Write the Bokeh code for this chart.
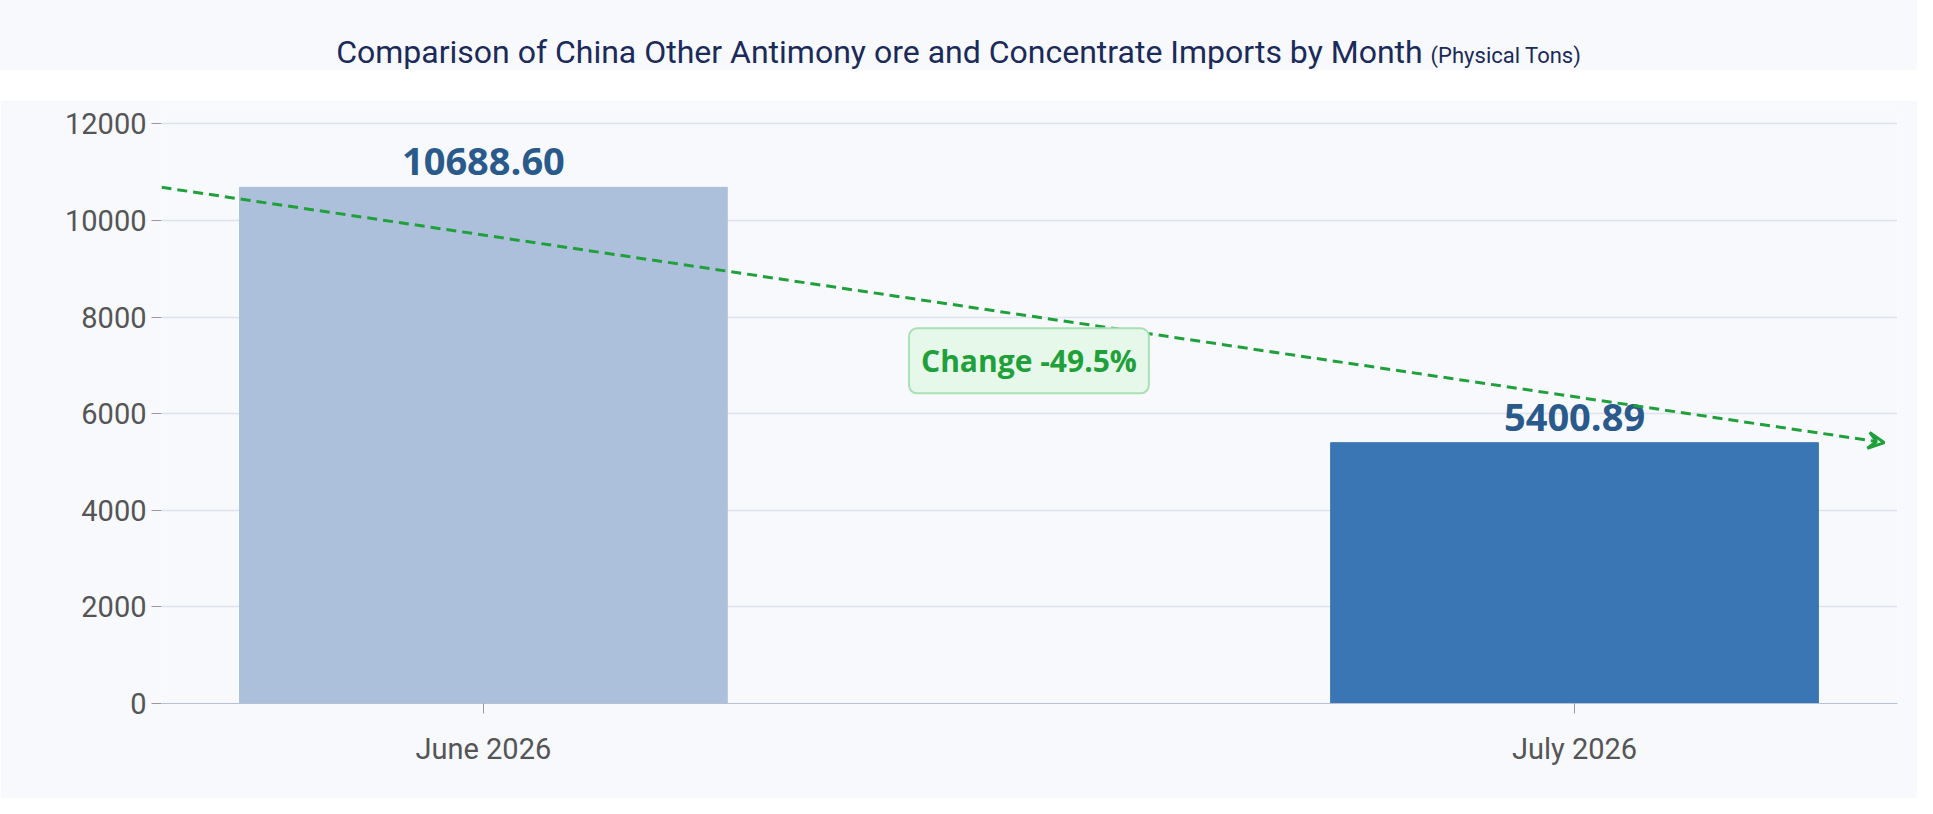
from bokeh.plotting import figure
from bokeh.models import Div, Label, FixedTicker, Arrow, VeeHead, ColumnDataSource, Range1d
from bokeh.layouts import column
from bokeh.core.properties import value
from bokeh.embed import file_html
from bokeh.resources import INLINE

months = ["June 2026", "July 2026"]
values = [10688.60, 5400.89]
colors = ["#adc0db", "#3a76b3"]
change_text = "Change -49.5%"
yticks = [0, 2000, 4000, 6000, 8000, 10000, 12000]

xs = list(range(len(months)))
x0, x1 = -0.295, 1.296
src = ColumnDataSource(dict(x=xs, top=values, color=colors,
                            lab=["%.2f" % v for v in values]))

p = figure(width=1917, height=698, output_backend="svg", toolbar_location=None,
           x_range=Range1d(x0, x1), y_range=Range1d(0, 12300),
           min_border_left=161, min_border_right=20, min_border_top=9, min_border_bottom=95,
           background_fill_color="#f8f9fd", border_fill_color="#f8f9fd")
p.outline_line_color = None
p.vbar(x="x", top="top", width=0.447, color="color", source=src)
p.text(x="x", y="top", text="lab", source=src, text_align="center", text_baseline="bottom",
       y_offset=-12, text_font_size="38px", text_font_style="bold", text_color="#2a5a8c",
       text_font=value("Open Sans"))

p.add_layout(Arrow(x_start=x0, y_start=values[0], x_end=x1 - 0.012, y_end=values[1],
                   line_color="#1fa03a", line_width=3, line_dash="10 6",
                   end=VeeHead(size=16, line_color="#1fa03a", line_width=3, fill_alpha=0)))
p.add_layout(Label(x=(xs[0] + xs[1]) / 2, y=7097, text=change_text, text_align="center",
                   text_baseline="middle", text_font_size="30px", text_font_style="bold",
                   text_font="Open Sans",
                   text_color="#1fa03a", background_fill_color="#e6f8e9",
                   border_line_color="#a8e0b4", border_line_width=2,
                   padding=12, border_radius=8))

p.xaxis.ticker = FixedTicker(ticks=xs)
p.xaxis.major_label_overrides = {i: m for i, m in enumerate(months)}
p.yaxis.ticker = FixedTicker(ticks=yticks)
for ax in (p.xaxis, p.yaxis):
    ax.major_label_text_font_size = "29px"
    ax.major_label_text_color = "#555555"
    ax.major_label_text_font = "Roboto"
    ax.axis_line_color = "#b8c0d6"
    ax.major_tick_line_color = "#999999"
    ax.minor_tick_line_color = None
    ax.major_tick_in = 0
    ax.major_tick_out = 10
p.xaxis.major_label_standoff = 18
p.yaxis.axis_line_color = None
p.xgrid.grid_line_color = None
p.ygrid.grid_line_color = "#dde3ee"
p.ygrid.grid_line_width = 1.5

title = Div(text='<div style="width:1917px;text-align:center;font-family:Roboto;color:#1a2a5a;'
                 'padding-top:30px;background:#f8f9fd;height:70px">'
                 '<span style="font-size:32px">Comparison of China Other Antimony ore and Concentrate Imports by Month </span>'
                 '<span style="font-size:22px">(Physical Tons)</span></div>',
            width=1917, height=100, margin=0)
layout = column(title, p, spacing=0)
open("out.html", "w").write(file_html(layout, INLINE))
